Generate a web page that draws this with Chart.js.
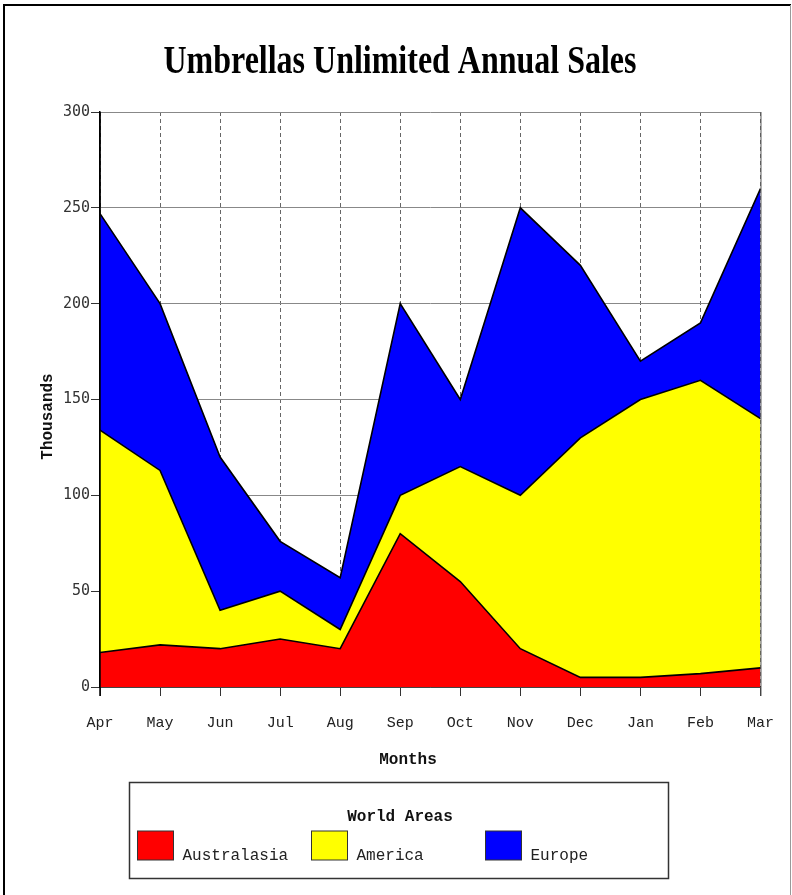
<!DOCTYPE html>
<html>
<head>
<meta charset="utf-8">
<title>Umbrellas Unlimited Annual Sales</title>
<script src="https://cdn.jsdelivr.net/npm/chart.js@4.4.1/dist/chart.umd.min.js"></script>
<style>
  html, body { margin: 0; padding: 0; background: #fff; }
  #wrap { position: relative; width: 792px; height: 895px; }
</style>
</head>
<body>
<div id="wrap"><canvas id="salesChart"></canvas></div>
<script>
// Chart data (thousands, stacked)
const months = ['Apr', 'May', 'Jun', 'Jul', 'Aug', 'Sep', 'Oct', 'Nov', 'Dec', 'Jan', 'Feb', 'Mar'];
const australasia = [18, 22, 20, 25, 20, 80, 55, 20, 5, 5, 7, 10];
const america = [116, 91, 20, 25, 10, 20, 60, 80, 125, 145, 153, 130];
const europe = [113, 87, 80, 26, 27, 100, 35, 150, 90, 20, 30, 120];
const seriesNames = ['Australasia', 'America', 'Europe'];
const seriesColors = ['#ff0000', '#ffff00', '#0000ff'];
const yMin = 0;
const yMax = 300;
const yStep = 50;

const chartTitle = 'Umbrellas Unlimited Annual Sales';
const xTitle = 'Months';
const yTitle = 'Thousands';
const legendTitle = 'World Areas';

// Draws the title, axis titles, legend box and page frame
const decorPlugin = {
    id: 'decor',
    afterDraw(chart) {
        const ctx = chart.ctx;
        const W = chart.width, H = chart.height;
        const area = chart.chartArea;

        // solid edges of the plot (left axis and right edge)
        ctx.save();
        ctx.strokeStyle = '#555';
        ctx.lineWidth = 1;
        ctx.beginPath();
        ctx.moveTo(area.right + 0.5, area.top);
        ctx.lineTo(area.right + 0.5, area.bottom + 9);
        ctx.stroke();
        ctx.strokeStyle = '#000';
        ctx.lineWidth = 1.5;
        ctx.beginPath();
        ctx.moveTo(area.left, area.top);
        ctx.lineTo(area.left, area.bottom + 9);
        ctx.stroke();
        ctx.restore();

        // frame round the picture
        ctx.save();
        ctx.strokeStyle = '#000';
        ctx.lineWidth = 2;
        ctx.beginPath();
        ctx.moveTo(4, H);
        ctx.lineTo(4, 5);
        ctx.lineTo(W - 1, 5);
        ctx.stroke();
        ctx.strokeStyle = '#999';
        ctx.lineWidth = 1;
        ctx.beginPath();
        ctx.moveTo(790.5, 5);
        ctx.lineTo(790.5, H);
        ctx.stroke();
        ctx.restore();

        // main title (narrow bold serif)
        ctx.save();
        ctx.font = 'bold 40px "Liberation Serif", "Times New Roman", serif';
        const tw = ctx.measureText(chartTitle).width;
        ctx.translate(400, 73);
        ctx.scale(473 / tw, 1);
        ctx.fillStyle = '#000';
        ctx.textAlign = 'center';
        ctx.textBaseline = 'alphabetic';
        ctx.fillText(chartTitle, 0, 0);
        ctx.restore();

        // axis titles
        ctx.save();
        ctx.fillStyle = '#111';
        ctx.font = 'bold 16px "Liberation Mono", "Courier New", monospace';
        ctx.textAlign = 'center';
        ctx.textBaseline = 'alphabetic';
        ctx.fillText(xTitle, 408, 764);
        ctx.translate(47.5, 416.5);
        ctx.rotate(-Math.PI / 2);
        ctx.textBaseline = 'middle';
        ctx.fillText(yTitle, 0, 0);
        ctx.restore();

        // legend
        ctx.save();
        ctx.strokeStyle = '#333';
        ctx.lineWidth = 1.5;
        ctx.strokeRect(129.5, 782.5, 539, 96);
        ctx.fillStyle = '#111';
        ctx.font = 'bold 16px "Liberation Mono", "Courier New", monospace';
        ctx.textAlign = 'center';
        ctx.fillText(legendTitle, 400, 821);
        ctx.font = '16px "Liberation Mono", "Courier New", monospace';
        ctx.textAlign = 'left';
        chart.data.datasets.forEach(function (ds, i) {
            const bx = 137.5 + i * 174;
            ctx.fillStyle = ds.backgroundColor;
            ctx.fillRect(bx, 831, 36, 29);
            ctx.strokeStyle = '#333';
            ctx.lineWidth = 1;
            ctx.strokeRect(bx, 831, 36, 29);
            ctx.fillStyle = '#222';
            ctx.fillText(ds.label, bx + 45, 860);
        });
        ctx.restore();
    }
};

const datasets = [australasia, america, europe].map(function (values, i) {
    return {
        label: seriesNames[i],
        data: values,
        backgroundColor: seriesColors[i],
        borderColor: '#000',
        borderWidth: 1.6,
        pointRadius: 0,
        tension: 0,
        fill: i === 0 ? 'origin' : '-1'
    };
});

const ctx = document.getElementById('salesChart').getContext('2d');
const salesChart = new Chart(ctx, {
    type: 'line',
    data: { labels: months, datasets: datasets },
    options: {
        responsive: true,
        maintainAspectRatio: false,
        animation: false,
        layout: { padding: { top: 112, right: 31, left: 0, bottom: 0 } },
        plugins: {
            legend: { display: false },
            title: { display: false },
            tooltip: { enabled: false }
        },
        scales: {
            x: {
                offset: false,
                grid: { color: '#666', lineWidth: 1, tickLength: 9, tickColor: '#333' },
                border: { color: '#000', width: 1.5, dash: [4, 3] },
                ticks: {
                    color: '#222',
                    padding: 18,
                    maxRotation: 0,
                    font: { family: '"Liberation Mono", "Courier New", monospace', size: 15 }
                },
                afterFit: function (scale) { scale.height = 208; }
            },
            y: {
                stacked: true,
                min: yMin,
                max: yMax,
                grid: { color: '#888', lineWidth: 1, tickLength: 9, tickColor: '#333' },
                border: { color: '#000', width: 1.5 },
                ticks: {
                    stepSize: yStep,
                    color: '#333',
                    padding: 1,
                    font: { family: '"DejaVu Sans Mono", monospace', size: 15 }
                },
                afterFit: function (scale) { scale.width = 100; }
            }
        }
    },
    plugins: [decorPlugin]
});
</script>
</body>
</html>
